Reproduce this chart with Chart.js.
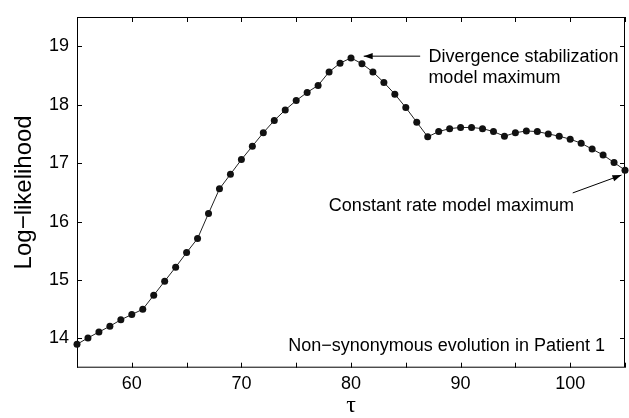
<!DOCTYPE html>
<html>
<head>
<meta charset="utf-8">
<script src="https://cdn.jsdelivr.net/npm/chart.js@4"></script>
<style>
  html, body { margin: 0; padding: 0; background: #fff; }
  #wrap { width: 629px; height: 418px; }
</style>
</head>
<body>
<div id="wrap"><canvas id="llChart"></canvas></div>
<script>
const tau = [55, 56, 57, 58, 59, 60, 61, 62, 63, 64, 65, 66, 67, 68, 69, 70, 71, 72, 73, 74,
  75, 76, 77, 78, 79, 80, 81, 82, 83, 84, 85, 86, 87, 88, 89, 90, 91, 92, 93, 94,
  95, 96, 97, 98, 99, 100, 101, 102, 103, 104, 105];
const logLik = [13.90, 14.01, 14.11, 14.21, 14.32, 14.41, 14.50, 14.74, 14.98, 15.22,
  15.47, 15.71, 16.14, 16.56, 16.81, 17.06, 17.29, 17.52, 17.73, 17.91,
  18.07, 18.21, 18.33, 18.56, 18.71, 18.80, 18.70, 18.56, 18.38, 18.18,
  17.95, 17.70, 17.45, 17.54, 17.59, 17.61, 17.61, 17.59, 17.54, 17.46,
  17.52, 17.55, 17.54, 17.50, 17.46, 17.41, 17.34, 17.24, 17.14, 17.01, 16.88];
const xTickLabels = [60, 70, 80, 90, 100];
const yTickLabels = [14, 15, 16, 17, 18, 19];
const xMinorTicks = [55, 60, 65, 70, 75, 80, 85, 90, 95, 100, 105];

const FONT = "'Liberation Sans', Arial, Helvetica, sans-serif";

// frame + MATLAB style inward ticks, and the text annotations
const framePlugin = {
  id: "frame",
  beforeDatasetsDraw(chart) {
    const { ctx, chartArea: a, scales } = chart;
    ctx.save();
    ctx.strokeStyle = "#000";
    ctx.lineWidth = 1;
    ctx.strokeRect(a.left + 0.5, a.top + 0.5, a.right - a.left - 1, a.bottom - a.top - 1);
    ctx.beginPath();
    xMinorTicks.forEach((v) => {
      const px = Math.round(scales.x.getPixelForValue(v)) + 0.5;
      ctx.moveTo(px, a.bottom); ctx.lineTo(px, a.bottom - 5);
      ctx.moveTo(px, a.top); ctx.lineTo(px, a.top + 5);
    });
    yTickLabels.forEach((v) => {
      const py = Math.round(scales.y.getPixelForValue(v)) + 0.5;
      ctx.moveTo(a.left, py); ctx.lineTo(a.left + 5, py);
      ctx.moveTo(a.right, py); ctx.lineTo(a.right - 5, py);
    });
    ctx.stroke();
    ctx.restore();
  },
  afterDraw(chart) {
    const { ctx, scales } = chart;
    const X = (v) => scales.x.getPixelForValue(v);
    const Y = (v) => scales.y.getPixelForValue(v);
    const arrow = (x0, y0, x1, y1) => {
      ctx.beginPath();
      ctx.moveTo(X(x0), Y(y0));
      ctx.lineTo(X(x1), Y(y1));
      ctx.stroke();
      const ang = Math.atan2(Y(y1) - Y(y0), X(x1) - X(x0));
      const len = 9, w = 3.2;
      const tx = X(x1), ty = Y(y1);
      ctx.beginPath();
      ctx.moveTo(tx, ty);
      ctx.lineTo(tx - len * Math.cos(ang) + w * Math.sin(ang), ty - len * Math.sin(ang) - w * Math.cos(ang));
      ctx.lineTo(tx - len * Math.cos(ang) - w * Math.sin(ang), ty - len * Math.sin(ang) + w * Math.cos(ang));
      ctx.closePath();
      ctx.fill();
    };
    ctx.save();
    ctx.fillStyle = "#000";
    ctx.strokeStyle = "#000";
    ctx.lineWidth = 1;
    ctx.font = "18px " + FONT;
    ctx.textBaseline = "alphabetic";
    ctx.textAlign = "left";
    ctx.fillText("Divergence stabilization", X(87.06), Y(18.83) + 6);
    ctx.fillText("model maximum", X(87.06), Y(18.83) + 27);
    ctx.fillText("Constant rate model maximum", X(77.98), Y(16.49) + 18);
    ctx.textAlign = "right";
    ctx.fillText("Non\u2212synonymous evolution in Patient 1", X(103.17), Y(13.89) + 6);
    arrow(86.31, 18.83, 81.16, 18.83);
    arrow(100.23, 16.49, 104.68, 16.795);
    ctx.restore();
  },
};

const llChart = new Chart(document.getElementById("llChart"), {
  type: "line",
  data: {
    datasets: [
      {
        data: tau.map((t, i) => ({ x: t, y: logLik[i] })),
        borderColor: "#222",
        borderWidth: 1,
        backgroundColor: "#111",
        pointBackgroundColor: "#111",
        pointBorderColor: "#111",
        pointRadius: 3.5,
        pointBorderWidth: 0,
        tension: 0,
        clip: false,
      },
    ],
  },
  options: {
    responsive: true,
    maintainAspectRatio: false,
    animation: false,
    events: [],
    layout: { padding: { top: 11, right: 1.5, left: 0, bottom: 0 } },
    plugins: { legend: { display: false }, tooltip: { enabled: false } },
    scales: {
      x: {
        type: "linear",
        min: 55,
        max: 105,
        grid: { display: false, drawTicks: false },
        border: { display: false },
        afterBuildTicks: (s) => { s.ticks = xTickLabels.map((v) => ({ value: v })); },
        afterFit: (s) => { s.height = 50.3; },
        ticks: { color: "#000", padding: 7, maxRotation: 0, font: { family: FONT, size: 18, lineHeight: 1 } },
        title: {
          display: true,
          text: "\u03c4",
          color: "#000",
          padding: { top: 0, bottom: 0 },
          font: { family: "'Liberation Serif', 'DejaVu Serif', serif", size: 24, lineHeight: 1 },
        },
      },
      y: {
        min: 13.5,
        max: 19.5,
        grid: { display: false, drawTicks: false },
        border: { display: false },
        afterBuildTicks: (s) => { s.ticks = yTickLabels.map((v) => ({ value: v })); },
        afterFit: (s) => { s.width = 77; },
        ticks: { color: "#000", padding: 8, font: { family: FONT, size: 18, lineHeight: 1 } },
        title: {
          display: true,
          text: "Log\u2212likelihood",
          color: "#000",
          padding: { top: 12, bottom: 0 },
          font: { family: FONT, size: 24, lineHeight: 1 },
        },
      },
    },
  },
  plugins: [framePlugin],
});
</script>
</body>
</html>
